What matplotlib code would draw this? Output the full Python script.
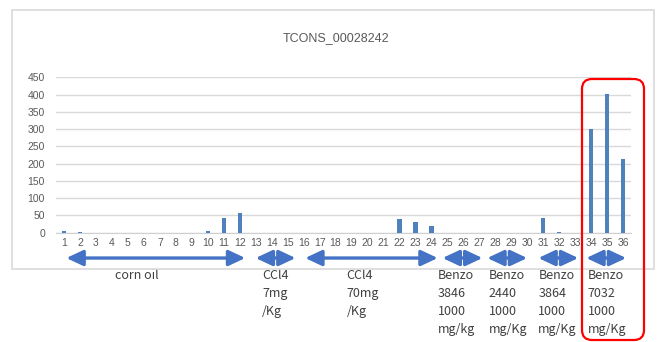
import matplotlib
matplotlib.use("Agg")
import matplotlib.pyplot as plt
from matplotlib.patches import Rectangle, FancyBboxPatch

# expression per sample for one transcript
samples = list(range(1, 37))
values = [4, 1, 0.5, 0, 0, 0, 0, 0, 0, 5, 42, 56,
          0, 0, 0,
          0, 0, 0, 0, 0, 0, 40, 31, 19,
          0, 0, 0,
          0, 0, 0,
          42, 3, 0,
          300, 401, 213]
yticks = [0, 50, 100, 150, 200, 250, 300, 350, 400, 450]

# treatment groups: (arrow start, arrow end, label x, label text, alignment)
groups = [
    (1.15, 12.35, 5.57, "corn oil", "center"),
    (13.0, 15.5, 13.4, "CCl4\n7mg\n/Kg", "left"),
    (16.1, 24.4, 18.7, "CCl4\n70mg\n/Kg", "left"),
    (24.7, 27.2, 24.4, "Benzo\n3846\n1000\nmg/kg", "left"),
    (27.5, 30.0, 27.6, "Benzo\n2440\n1000\nmg/Kg", "left"),
    (30.7, 33.2, 30.7, "Benzo\n3864\n1000\nmg/Kg", "left"),
    (33.7, 36.2, 33.8, "Benzo\n7032\n1000\nmg/Kg", "left"),
]

W, H = 661, 342
fig = plt.figure(figsize=(W / 100, H / 100), dpi=100)

# outer chart frame
fig.patches.append(Rectangle((12 / W, (H - 269) / H), 642 / W, 259 / H,
                             transform=fig.transFigure, fill=False,
                             edgecolor="#d9d9d9", lw=1.2))

ax = fig.add_axes([56 / W, (H - 232.7) / H, 575 / W, 155.4 / H])
ax.bar(samples, values, width=0.27, color="#4f81bd", zorder=3)
ax.set_xlim(0.5, 36.5)
ax.set_ylim(0, 450)
ax.set_yticks(yticks)
ax.set_xticks(samples)
ax.grid(axis="y", color="#d9d9d9", lw=1, zorder=0)
for s in ["top", "right", "left"]:
    ax.spines[s].set_visible(False)
ax.spines["bottom"].set_color("#d0d0d0")
ax.tick_params(length=0, labelsize=7.5, labelcolor="#595959", pad=4)
ax.tick_params(axis="y", pad=8)
for lab in ax.get_xticklabels() + ax.get_yticklabels():
    lab.set_family("Liberation Sans")

fig.text(336 / W, (H - 38) / H, "TCONS_00028242", ha="center", va="center",
         fontsize=9, color="#595959", family="Liberation Sans")

# group arrows and labels under the axis
tr = ax.get_xaxis_transform()
for x0, x1, lx, text, ha in groups:
    ax.annotate("", xy=(x1, -0.163), xytext=(x0, -0.163), xycoords=tr,
                textcoords=tr, annotation_clip=False,
                arrowprops=dict(arrowstyle="<|-|>,head_length=1.0,head_width=0.47",
                                color="#4472c4", lw=2.4, shrinkA=0, shrinkB=0,
                                mutation_scale=10))
    ax.text(lx, -0.232, text, transform=tr, ha=ha, va="top", fontsize=9,
            color="#404040", linespacing=1.52, family="Noto Sans CJK JP",
            clip_on=False)

# highlight box around the last group
fig.patches.append(FancyBboxPatch((5.82, 0.02), 0.62, 2.61,
                                  boxstyle="round,pad=0,rounding_size=0.1",
                                  transform=fig.dpi_scale_trans, fill=False,
                                  edgecolor="#ff0000", lw=1.6))

fig.savefig("out.png", dpi=100)
